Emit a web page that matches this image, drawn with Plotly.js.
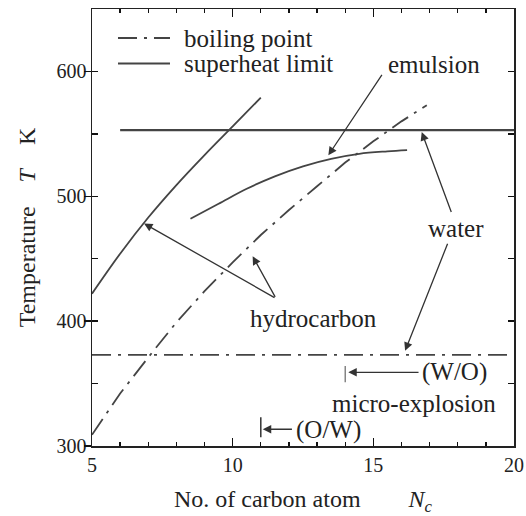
<!DOCTYPE html>
<html>
<head>
<meta charset="utf-8">
<script src="https://cdn.plot.ly/plotly-3.0.1.min.js"></script>
<style>html,body{margin:0;padding:0;background:#fff;}#chart{width:526px;height:516px;}</style>
</head>
<body>
<div id="chart"></div>
<script>
// ---- data ----
const hcBoilN   = [5, 6, 7, 8, 9, 10, 11, 12, 13, 14, 15, 16, 16.9];
const hcBoilT   = [309, 342, 371, 399, 424, 447, 469, 489, 508, 527, 544, 560, 573];
const hcSupN    = [5, 6, 7, 8, 9, 10, 11];
const hcSupT    = [422, 454, 483, 509, 533, 556, 579];
const emuN      = [8.5, 9.5, 10.5, 11.5, 12.5, 13.5, 14.5, 15.5, 16.2];
const emuT      = [482, 494, 506, 516, 524, 530, 534, 536, 537];
const waterSupN = [6, 20];
const waterSupT = [553, 553];
const waterBoilN = [5, 20];
const waterBoilT = [373, 373];
const woN = [14, 14];
const woT = [351, 364];
const owN = [11, 11];
const owT = [307, 323];
const legendNames = ["boiling point", "superheat limit"];

const FONT = "Liberation Serif, Times New Roman, serif";
const LC = "#444";
const DASHDOT = "19px,7px,3px,7px";

const traces = [
  {x: hcBoilN, y: hcBoilT, mode: "lines", line: {color: LC, width: 1.8, dash: DASHDOT}, name: legendNames[0], showlegend: false},
  {x: hcSupN, y: hcSupT, mode: "lines", line: {color: LC, width: 1.8, shape: "spline"}, name: legendNames[1], showlegend: false},
  {x: emuN, y: emuT, mode: "lines", line: {color: LC, width: 1.8, shape: "spline"}, name: "emulsion", showlegend: false},
  {x: waterBoilN, y: waterBoilT, mode: "lines", line: {color: LC, width: 1.8, dash: DASHDOT}, name: "water boiling", showlegend: false},
  {x: woN, y: woT, mode: "lines", line: {color: "#666", width: 1.2}, name: "W/O", showlegend: false},
  {x: owN, y: owT, mode: "lines", line: {color: "#333", width: 1.5}, name: "O/W", showlegend: false},
  // drawn on the overlay axes (identical ranges) which carry the longer major ticks
  {x: waterSupN, y: waterSupT, xaxis: "x2", yaxis: "y2", mode: "lines", line: {color: LC, width: 2.2}, name: "water superheat", showlegend: false}
];

function arrow(x, y, ax, ay) {
  return {x: x, y: y, ax: ax, ay: ay, xref: "x", yref: "y", axref: "x", ayref: "y",
          text: "", showarrow: true, arrowhead: 2, arrowsize: 1.3, arrowwidth: 1.3,
          arrowcolor: "#333", standoff: 0, startstandoff: 0};
}
function label(x, y, text) {
  return {x: x, y: y, xref: "x", yref: "y", text: text, showarrow: false,
          font: {family: FONT, size: 25, color: "#222"}, xanchor: "center", yanchor: "middle"};
}

const annotations = [
  label(17.15, 605.6, "emulsion"),
  arrow(13.40, 532.8, 15.34, 598.4),
  label(17.93, 474.4, "water"),
  arrow(16.72, 551.4, 17.79, 486.2),
  arrow(16.13, 376.2, 17.66, 463.2),
  label(12.86, 402.4, "hydrocarbon"),
  arrow(6.85, 478.2, 11.54, 418.2),
  arrow(10.71, 452.0, 11.54, 418.2),
  label(17.90, 359.2, "(W/O)"),
  arrow(14.11, 359.0, 16.66, 359.0),
  label(16.45, 334.4, "micro-explosion"),
  label(13.39, 312.8, "(O/W)"),
  arrow(11.07, 313.4, 12.16, 313.4),
  {x: 0.2133, y: 0.9336, xref: "paper", yref: "paper", text: legendNames[0], showarrow: false,
   xanchor: "left", yanchor: "middle", font: {family: FONT, size: 25, color: "#222"}},
  {x: 0.2133, y: 0.8753, xref: "paper", yref: "paper", text: legendNames[1], showarrow: false,
   xanchor: "left", yanchor: "middle", font: {family: FONT, size: 25, color: "#222"}}
];

const shapes = [
  {type: "line", xref: "paper", yref: "paper", x0: 0.0616, x1: 0.1848, y0: 0.9336, y1: 0.9336,
   line: {color: LC, width: 1.8, dash: DASHDOT}},
  {type: "line", xref: "paper", yref: "paper", x0: 0.0616, x1: 0.1848, y0: 0.8753, y1: 0.8753,
   line: {color: LC, width: 1.8}}
];

const tickFont = {family: FONT, size: 20, color: "#222"};

const layout = {
  width: 526, height: 516,
  margin: {l: 92, r: 12, t: 9, b: 70},
  paper_bgcolor: "#fff", plot_bgcolor: "#fff",
  showlegend: false,
  font: {family: FONT, color: "#222"},
  xaxis: {
    range: [5, 20], tickmode: "linear", tick0: 5, dtick: 1, ticks: "inside", ticklen: 4, tickwidth: 1.3, tickcolor: "#111",
    labelalias: {"6": " ", "7": " ", "8": " ", "9": " ", "11": " ", "12": " ", "13": " ", "14": " ",
                 "16": " ", "17": " ", "18": " ", "19": " "},
    showline: true, linecolor: "#222", linewidth: 1.5, mirror: "allticks",
    showgrid: false, zeroline: false, tickfont: tickFont,
    title: {text: "No. of carbon atom\u2003\u2003<i>N</i><sub><i>c</i></sub>\u2003", font: {family: FONT, size: 24, color: "#222"}, standoff: 18}
  },
  xaxis2: {
    overlaying: "x", side: "bottom", anchor: "y2", range: [5, 20], tickmode: "linear", tick0: 5, dtick: 5,
    ticks: "inside", ticklen: 8, tickwidth: 1.3, tickcolor: "#111", mirror: "allticks",
    showticklabels: false, showgrid: false, zeroline: false, showline: false
  },
  yaxis: {
    range: [300, 650], tickmode: "linear", tick0: 300, dtick: 50, ticks: "inside", ticklen: 6, tickwidth: 1.3, tickcolor: "#111",
    labelalias: {"350": " ", "450": " ", "550": " ", "650": " "},
    showline: true, linecolor: "#222", linewidth: 1.5, mirror: "allticks",
    showgrid: false, zeroline: false, tickfont: tickFont,
    title: {text: "Temperature\u2003<i>T</i>\u2003K\u2003", font: {family: FONT, size: 24, color: "#222"}, standoff: 14}
  },
  yaxis2: {
    overlaying: "y", side: "left", anchor: "x2", range: [300, 650], tickmode: "linear", tick0: 300, dtick: 100,
    ticks: "outside", ticklen: 7, tickwidth: 1.3, tickcolor: "#111",
    showticklabels: false, showgrid: false, zeroline: false, showline: false
  },
  annotations: annotations,
  shapes: shapes
};

Plotly.newPlot("chart", traces, layout, {staticPlot: true, displayModeBar: false});
</script>
</body>
</html>
